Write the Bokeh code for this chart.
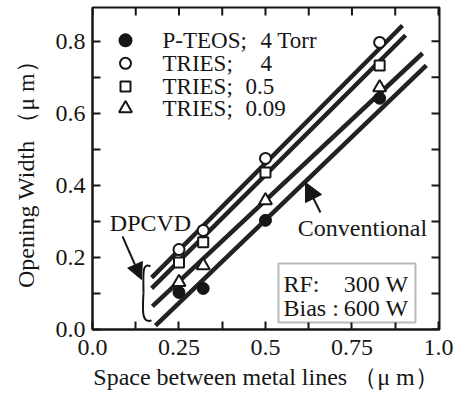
import math
from bokeh.plotting import figure
from bokeh.models import (LinearAxis, FixedTicker, Label, BoxAnnotation, Arrow,
                          NormalHead, Range1d)
from bokeh.embed import file_html
from bokeh.resources import INLINE

# ---- data ----
spacing = [0.25, 0.32, 0.50, 0.83]
pteos_4torr = [0.103, 0.114, 0.303, 0.642]
tries_4 = [0.222, 0.275, 0.475, 0.797]
tries_05 = [0.186, 0.242, 0.436, 0.733]
tries_009 = [0.131, 0.178, 0.358, 0.672]

# fitted straight lines (start/end)
fit_tries_4_x = [0.171, 0.896]
fit_tries_4_y = [0.144, 0.844]
fit_tries_05_x = [0.171, 0.905]
fit_tries_05_y = [0.114, 0.817]
fit_tries_009_x = [0.173, 0.954]
fit_tries_009_y = [0.064, 0.767]
fit_pteos_x = [0.182, 0.965]
fit_pteos_y = [0.011, 0.733]

x_major = [0.0, 0.25, 0.5, 0.75, 1.0]
x_minor = [0.125, 0.375, 0.625, 0.875]
y_major = [0.0, 0.2, 0.4, 0.6, 0.8]
y_minor = [0.1, 0.3, 0.5, 0.7]
x_tick_labels = {0.0: "0.0", 0.25: "0.25", 0.5: "0.5", 0.75: "0.75", 1.0: "1.0"}
y_tick_labels = {0.0: "0.0", 0.2: "0.2", 0.4: "0.4", 0.6: "0.6", 0.8: "0.8"}

legend_labels = ["P-TEOS;", "TRIES;", "TRIES;", "TRIES;"]
legend_values = ["4 Torr", "4", "0.5", "0.09"]

x_title = "Space between metal lines （μ m）"
y_title = "Opening Width （μ m）"

FONT = "Liberation Serif"
INK = "#161616"
X_END = 1.003
Y_END = 0.894

p = figure(width=466, height=400, x_range=Range1d(0, X_END), y_range=Range1d(0, Y_END),
           output_backend="svg", toolbar_location=None,
           min_border_left=92, min_border_right=27, min_border_top=7, min_border_bottom=71,
           x_axis_type=None, y_axis_type=None)
p.grid.visible = False
p.outline_line_color = INK
p.outline_line_width = 2
p.background_fill_color = "white"
p.border_fill_color = "white"


def style_axis(ax, labels, standoff):
    ax.axis_line_color = INK
    ax.axis_line_width = 2
    ax.major_tick_in = 8
    ax.major_tick_out = 0
    ax.minor_tick_in = 8
    ax.minor_tick_out = 0
    ax.major_tick_line_width = 2
    ax.minor_tick_line_width = 2
    ax.major_tick_line_color = INK
    ax.minor_tick_line_color = INK
    ax.major_label_text_font = FONT
    ax.major_label_text_font_size = "24px"
    ax.major_label_text_color = INK
    ax.major_label_standoff = standoff
    ax.major_label_overrides = labels
    ax.axis_label_text_font = FONT
    ax.axis_label_text_font_size = "24px"
    ax.axis_label_text_font_style = "normal"
    ax.axis_label_text_color = INK


xb = LinearAxis(ticker=FixedTicker(ticks=x_major, minor_ticks=x_minor))
style_axis(xb, x_tick_labels, 10)
xb.axis_label = x_title
xb.axis_label_standoff = 6
p.add_layout(xb, "below")

yl = LinearAxis(ticker=FixedTicker(ticks=y_major, minor_ticks=y_minor))
style_axis(yl, y_tick_labels, 7)
yl.axis_label = y_title
yl.axis_label_standoff = 14
p.add_layout(yl, "left")

# inward ticks on the top and right frame edges
TX = 8 / 346.0
TY = 8 / 360.0
all_x = x_major + x_minor
all_y = y_major + y_minor
p.segment(x0=all_x, y0=[Y_END] * len(all_x), x1=all_x, y1=[Y_END - TY] * len(all_x),
          line_color=INK, line_width=2)
p.segment(x0=[X_END] * len(all_y), y0=all_y, x1=[X_END - TX] * len(all_y), y1=all_y,
          line_color=INK, line_width=2)

# fitted lines
for fx, fy in [(fit_tries_4_x, fit_tries_4_y), (fit_tries_05_x, fit_tries_05_y),
               (fit_tries_009_x, fit_tries_009_y), (fit_pteos_x, fit_pteos_y)]:
    p.line(fx, fy, line_width=4.5, line_color="#222222")

# data points
p.scatter(spacing, pteos_4torr, marker="circle", size=12, fill_color=INK, line_color=INK)
p.scatter(spacing, tries_4, marker="circle", size=11, fill_color="white", line_color=INK, line_width=2)
p.scatter(spacing, tries_05, marker="square", size=10, fill_color="white", line_color=INK, line_width=2)
p.scatter(spacing, tries_009, marker="triangle", size=13, fill_color="white", line_color=INK, line_width=2)


def dx(px):
    return (px - 92) / 346.0


def dy(py):
    return (329 - py) / 360.0


# legend (manual)
rows_y = [40, 63, 86, 108]
markers = [("circle", 12, INK), ("circle", 11, "white"), ("square", 10, "white"), ("triangle", 13, "white")]
value_x = [260, 260, 245, 245]
for (mk, sz, fc), ry, lab, val, vx in zip(markers, rows_y, legend_labels, legend_values, value_x):
    p.scatter([dx(125)], [dy(ry)], marker=mk, size=sz, fill_color=fc, line_color=INK, line_width=2)
    p.add_layout(Label(x=dx(162), y=dy(ry), text=lab, text_font=FONT, text_font_size="23px",
                       text_color=INK, text_baseline="middle", text_align="left"))
    p.add_layout(Label(x=dx(vx), y=dy(ry), text=val, text_font=FONT, text_font_size="23px",
                       text_color=INK, text_baseline="middle", text_align="left"))

# annotations
p.add_layout(Label(x=dx(150), y=dy(223), text="DPCVD", text_font=FONT, text_font_size="24px",
                   text_color=INK, text_baseline="middle", text_align="center"))
p.add_layout(Arrow(x_start=dx(122), y_start=dy(236), x_end=dx(141), y_end=dy(279),
                   line_width=2, line_color=INK,
                   end=NormalHead(size=16, fill_color=INK, line_color=INK)))
p.bezier(x0=[dx(150)], y0=[dy(266)], x1=[dx(143)], y1=[dy(292)],
         cx0=[dx(141)], cy0=[dy(261)], cx1=[dx(143)], cy1=[dy(276)], line_color=INK, line_width=2)
p.bezier(x0=[dx(143)], y0=[dy(292)], x1=[dx(151)], y1=[dy(320)],
         cx0=[dx(142)], cy0=[dy(310)], cx1=[dx(141)], cy1=[dy(323)], line_color=INK, line_width=2)

p.add_layout(Label(x=dx(362), y=dy(228), text="Conventional", text_font=FONT, text_font_size="24px",
                   text_color=INK, text_baseline="middle", text_align="center"))
p.add_layout(Arrow(x_start=dx(320), y_start=dy(212), x_end=dx(305), y_end=dy(182),
                   line_width=2, line_color=INK,
                   end=NormalHead(size=18, fill_color=INK, line_color=INK)))

p.add_layout(BoxAnnotation(left=dx(278), right=dx(415), bottom=dy(322), top=dy(263),
                           fill_color="white", fill_alpha=1, line_color=INK, line_width=2))
p.add_layout(Label(x=dx(283), y=dy(284), text="RF:", text_font=FONT, text_font_size="24px",
                   text_color=INK, text_baseline="middle", text_align="left"))
p.add_layout(Label(x=dx(408), y=dy(284), text="300 W", text_font=FONT, text_font_size="24px",
                   text_color=INK, text_baseline="middle", text_align="right"))
p.add_layout(Label(x=dx(283), y=dy(308), text="Bias :", text_font=FONT, text_font_size="24px",
                   text_color=INK, text_baseline="middle", text_align="left"))
p.add_layout(Label(x=dx(408), y=dy(308), text="600 W", text_font=FONT, text_font_size="24px",
                   text_color=INK, text_baseline="middle", text_align="right"))

open("out.html", "w").write(file_html(p, INLINE))
